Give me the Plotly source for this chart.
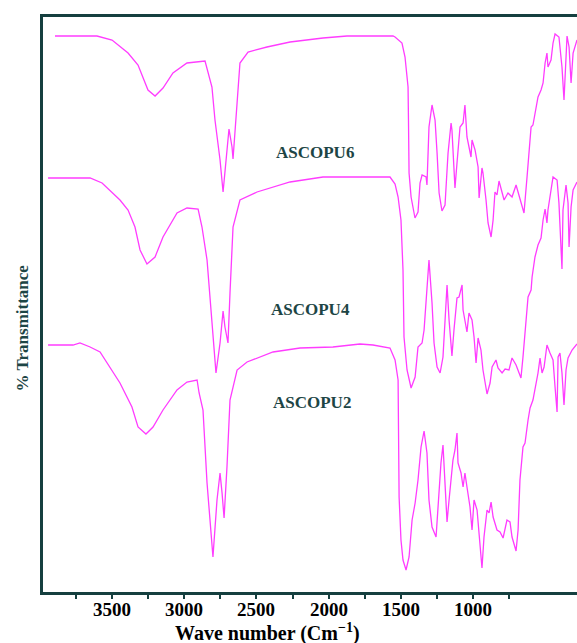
import plotly.graph_objects as go

# ASCOPU6 (top spectrum): wavenumber (cm-1) and transmittance (arbitrary offset units)
wn6 = [3895, 3604, 3500, 3389, 3320, 3285, 3251, 3202, 3147, 3078, 2981, 2856, 2835, 2808,
       2787, 2752, 2731, 2704, 2690, 2669, 2662, 2634, 2614, 2558, 2427, 2267, 2039, 1873,
       1554, 1540, 1492, 1471, 1450, 1447, 1443, 1429, 1416, 1402, 1381, 1367, 1353, 1325,
       1319, 1305, 1284, 1263, 1249, 1235, 1215, 1194, 1173, 1152, 1146, 1132, 1125, 1111,
       1090, 1069, 1056, 1042, 1028, 1014, 1007, 986, 965, 958, 938, 931, 910, 896, 875,
       861, 848, 834, 820, 799, 785, 758, 730, 702, 688, 668, 647, 626, 612, 598, 585, 571,
       550, 529, 515, 501, 488, 481, 460, 446, 432, 405, 384, 370, 356, 349, 335, 321, 307, 280]
t6 = [556, 556, 552, 539, 527, 515, 502, 496, 504, 519, 529, 531, 519, 505,
      472, 432, 400, 439, 463, 445, 433, 489, 529, 540, 545, 550, 554, 556,
      556, 555, 549, 535, 505, 472, 419, 395, 385, 374, 380, 409, 417, 415,
      407, 465, 487, 472, 439, 399, 381, 387, 439, 469, 462, 419, 404, 429,
      465, 469, 487, 455, 445, 435, 452, 442, 425, 394, 424, 419, 392, 369, 355,
      372, 400, 397, 411, 400, 392, 399, 395, 407, 400, 392, 379, 415, 445, 465, 467, 479,
      495, 502, 509, 529, 539, 525, 532, 549, 558, 555, 525, 492, 539, 556, 545, 509, 539, 552]

# ASCOPU4 (middle spectrum)
wn4 = [3943, 3652, 3569, 3445, 3389, 3341, 3306, 3258, 3202, 3147, 3050, 2981, 2904, 2877,
       2842, 2808, 2780, 2752, 2731, 2718, 2697, 2683, 2662, 2614, 2496, 2267, 2039, 1644,
       1575, 1540, 1519, 1499, 1485, 1478, 1457, 1429, 1401, 1381, 1353, 1339, 1319, 1305,
       1284, 1270, 1249, 1228, 1208, 1187, 1180, 1166, 1146, 1132, 1111, 1097, 1076, 1069,
       1056, 1042, 1028, 1007, 993, 979, 965, 945, 931, 903, 882, 868, 841, 827, 799, 778,
       751, 730, 702, 688, 668, 654, 633, 619, 598, 591, 571, 550, 529, 515, 501, 488, 481,
       460, 446, 418, 405, 384, 377, 356, 342, 335, 321, 307, 280]
t4 = [414, 414, 409, 392, 382, 365, 342, 328, 335, 355, 379, 384, 383, 365,
      332, 265, 219, 249, 281, 265, 249, 299, 365, 392, 400, 410, 415, 415,
      415, 408, 395, 372, 322, 255, 222, 204, 215, 245, 249, 262, 305, 332,
      289, 249, 225, 219, 235, 289, 307, 272, 236, 262, 294, 295, 307, 282,
      272, 260, 279, 272, 255, 229, 254, 242, 222, 198, 209, 225, 232, 224, 219, 223,
      222, 234, 227, 222, 214, 235, 272, 295, 302, 315, 335, 347, 354, 372, 383, 369, 382,
      400, 415, 412, 389, 323, 382, 407, 389, 345, 385, 402, 410]

# ASCOPU2 (bottom spectrum)
wn2 = [3943, 3770, 3722, 3652, 3583, 3514, 3445, 3362, 3320, 3265, 3216, 3147, 3050, 2981,
       2911, 2897, 2870, 2842, 2821, 2801, 2773, 2752, 2738, 2724, 2704, 2683, 2634, 2565,
       2385, 2198, 1970, 1783, 1693, 1575, 1540, 1519, 1516, 1512, 1499, 1485, 1464, 1443,
       1422, 1401, 1381, 1360, 1339, 1319, 1305, 1284, 1256, 1242, 1222, 1208, 1201, 1180,
       1166, 1146, 1139, 1125, 1111, 1104, 1083, 1069, 1056, 1042, 1021, 1007, 993, 972, 958,
       938, 924, 903, 889, 875, 861, 834, 813, 792, 765, 744, 730, 702, 688, 675, 654, 640,
       619, 605, 585, 571, 550, 536, 522, 508, 488, 467, 446, 432, 418, 411, 398, 384, 370,
       356, 342, 314, 280]
t2 = [247, 247, 249, 245, 240, 225, 209, 185, 165, 158, 165, 182, 202, 210,
      212, 199, 182, 109, 75, 35, 92, 119, 99, 74, 125, 192, 222, 230,
      240, 244, 245, 248, 247, 244, 232, 212, 162, 95, 52, 32, 22, 35,
      72, 89, 112, 145, 161, 139, 92, 65, 55, 89, 129, 147, 129, 70,
      92, 122, 132, 142, 159, 129, 119, 105, 119, 105, 85, 62, 92, 82, 55,
      24, 55, 82, 79, 90, 75, 62, 60, 54, 72, 70, 55, 41, 62, 112, 145, 149,
      172, 184, 192, 202, 219, 234, 219, 225, 247, 239, 232, 205, 180, 235, 239, 219, 187,
      222, 234, 242, 248]

labels = ["ASCOPU6", "ASCOPU4", "ASCOPU2"]
label_x = [2094, 2128, 2115]
label_y = [440, 283, 190]

major_ticks = [3500, 3000, 2500, 2000, 1500, 1000]
minor_ticks = [3750, 3250, 2750, 2250, 1750, 1250, 750]

line_color = "#ff3cff"
frame_color = "#153f3f"
text_color = "#1d4545"
serif = "Liberation Serif"

fig = go.Figure()
for wn, t in [(wn6, t6), (wn4, t4), (wn2, t2)]:
    fig.add_trace(go.Scatter(x=wn, y=t, mode="lines",
                             line=dict(color=line_color, width=1.3),
                             showlegend=False, hoverinfo="skip"))

for name, lx, ly in zip(labels, label_x, label_y):
    fig.add_annotation(x=lx, y=ly, text=name, showarrow=False,
                       font=dict(family=serif, size=17, color=text_color, weight="bold"))

# tick labels placed just below the axis
for v in major_ticks:
    fig.add_annotation(x=v, xref="x", yref="paper", y=-0.0296, text=str(v),
                       showarrow=False, xanchor="center", yanchor="middle",
                       font=dict(family=serif, size=19, color="black", weight="bold"))

# axis titles
fig.add_annotation(xref="paper", yref="paper", x=-0.0375, y=0.46,
                   text="% Transmittance", textangle=-90, showarrow=False,
                   xanchor="center", yanchor="middle",
                   font=dict(family=serif, size=17, color=text_color, weight="bold"))
fig.add_annotation(xref="paper", yref="paper", x=0.421, y=-0.0696,
                   text="Wave number (Cm<sup>\u22121</sup>)", showarrow=False,
                   xanchor="center", yanchor="middle",
                   font=dict(family=serif, size=20, color="black", weight="bold"))

fig.update_layout(
    width=577, height=643,
    margin=dict(l=43, r=0, t=17, b=51),
    paper_bgcolor="white", plot_bgcolor="white",
    xaxis=dict(
        range=[3978, 280], showgrid=False, zeroline=False,
        showline=True, linecolor=frame_color, linewidth=3, mirror=True,
        tickmode="array", tickvals=major_ticks, showticklabels=False,
        ticks="outside", ticklen=4, tickwidth=1.5, tickcolor=frame_color,
        minor=dict(tickmode="array", tickvals=minor_ticks, ticks="outside",
                   ticklen=4, tickwidth=1.5, tickcolor=frame_color),
    ),
    yaxis=dict(
        range=[0, 575], showgrid=False, zeroline=False, showticklabels=False,
        showline=True, linecolor=frame_color, linewidth=3, mirror=False, ticks="",
    ),
)

fig.write_html("out.html")
